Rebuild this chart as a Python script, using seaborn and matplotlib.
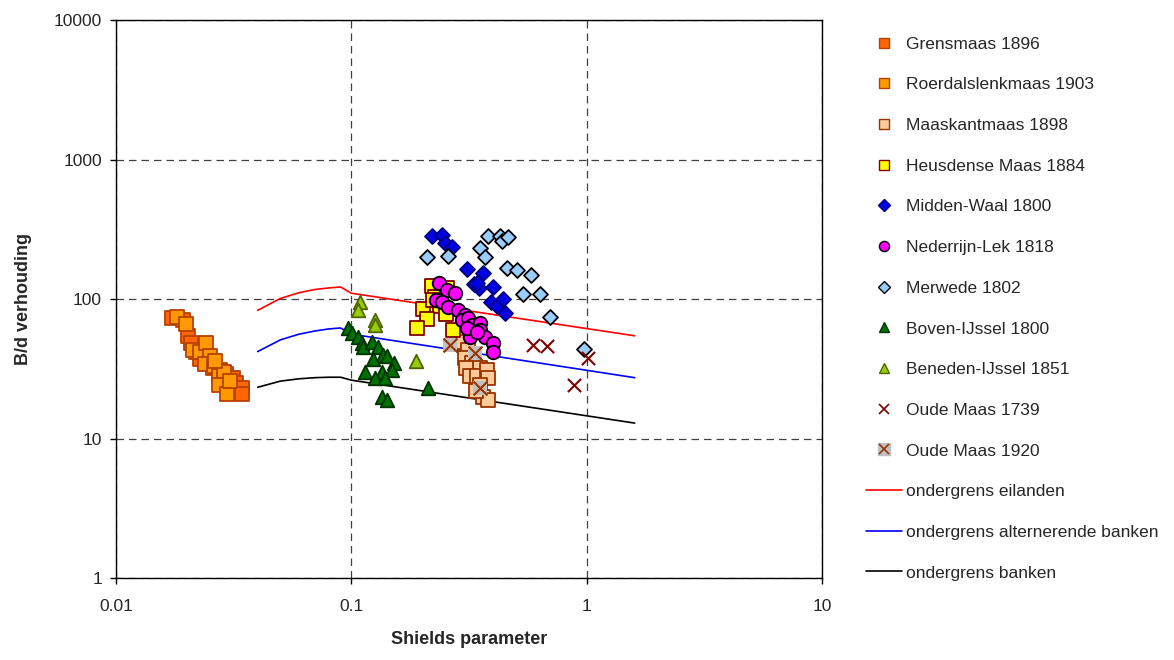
import seaborn as sns
import matplotlib.pyplot as plt
import numpy as np
from matplotlib.lines import Line2D
from matplotlib.ticker import FixedLocator, FixedFormatter, NullLocator

# --- data (Shields parameter, B/d ratio) ---
grensmaas_x = [0.0173, 0.0193, 0.0202, 0.0208, 0.0219, 0.0228, 0.0241, 0.0258, 0.0277, 0.0294, 0.0314, 0.0324, 0.0343, 0.0343]
grensmaas_y = [73, 71, 54, 48, 42, 37, 35, 32, 31, 29, 27, 25, 23, 21]

roerdal_x = [0.0182, 0.0198, 0.0212, 0.0228, 0.0241, 0.0251, 0.0239, 0.0261, 0.0274, 0.0288, 0.0274, 0.0296, 0.0305, 0.0263]
roerdal_y = [74, 66, 43, 42, 48, 39, 34, 33, 28, 30, 24, 21, 26, 36]

maaskant_x = [0.298, 0.313, 0.304, 0.326, 0.352, 0.307, 0.320, 0.342, 0.377, 0.381, 0.352, 0.363, 0.381, 0.339]
maaskant_y = [49, 43, 38, 35, 32, 32, 28, 28, 31, 27, 24, 20, 19, 22]

heusden_x = [0.220, 0.227, 0.238, 0.202, 0.210, 0.190, 0.253, 0.270, 0.255, 0.223]
heusden_y = [124, 103, 89, 85, 72, 62, 78, 60, 120, 98]

waal_x = [0.220, 0.243, 0.250, 0.268, 0.310, 0.363, 0.332, 0.349, 0.400, 0.393, 0.416, 0.441, 0.450, 0.342]
waal_y = [283, 288, 252, 236, 164, 154, 128, 120, 122, 95, 89, 100, 79, 130]

lek_x = [0.236, 0.255, 0.276, 0.229, 0.243, 0.258, 0.284, 0.304, 0.296, 0.313, 0.326, 0.352, 0.352, 0.320, 0.370, 0.400, 0.400, 0.310, 0.342]
lek_y = [130, 116, 110, 98, 95, 88, 83, 77, 71, 73, 65, 67, 60, 53, 53, 48, 42, 62, 58]

merwede_x = [0.210, 0.258, 0.352, 0.370, 0.381, 0.428, 0.437, 0.463, 0.459, 0.506, 0.580, 0.537, 0.634, 0.699, 0.975]
merwede_y = [200, 203, 232, 200, 283, 283, 260, 278, 167, 161, 149, 109, 109, 74, 44]

boven_x = [0.097, 0.101, 0.107, 0.111, 0.112, 0.122, 0.130, 0.136, 0.124, 0.142, 0.152, 0.149, 0.114, 0.135, 0.126, 0.139, 0.135, 0.142, 0.212]
boven_y = [62, 57, 53, 48, 45, 49, 45, 40, 37, 39, 35, 31, 30, 30, 27, 27, 20, 19, 23]

beneden_x = [0.109, 0.107, 0.126, 0.126, 0.188]
beneden_y = [95, 83, 71, 65, 36]

oude1739_x = [0.592, 0.679, 1.014, 0.884]
oude1739_y = [47, 46, 38, 24]

oude1920_x = [0.263, 0.336, 0.352]
oude1920_y = [47, 41, 23]

# lower limits
limit_x = [0.04, 0.05, 0.06, 0.07, 0.08, 0.09, 0.1, 1.6]
eilanden_y = [83, 101, 111, 117, 120, 122, 110, 54.5]
alternerend_y = [42, 51, 56, 59, 61, 62, 56, 27.3]
banken_y = [23.3, 25.8, 26.8, 27.3, 27.5, 27.5, 26.2, 12.9]

x_ticks = [0.01, 0.1, 1, 10]
x_tick_labels = ["0.01", "0.1", "1", "10"]
y_ticks = [1, 10, 100, 1000, 10000]
y_tick_labels = ["1", "10", "100", "1000", "10000"]


def main():
    sns.set_theme(style="white")
    plt.rcParams["font.family"] = ["Liberation Sans", "DejaVu Sans"]

    fig = plt.figure(figsize=(11.74, 6.6), dpi=100)
    ax = fig.add_axes([0.0988, 0.1242, 0.6014, 0.8455])
    ax.set(xscale="log", yscale="log")

    # limit lines (below markers)
    sns.lineplot(x=limit_x, y=eilanden_y, color="#FF0000", lw=1.2, ax=ax, zorder=2)
    sns.lineplot(x=limit_x, y=alternerend_y, color="#0000FF", lw=1.2, ax=ax, zorder=2)
    sns.lineplot(x=limit_x, y=banken_y, color="black", lw=1.2, ax=ax, zorder=2)

    series = [
        ("Grensmaas 1896", grensmaas_x, grensmaas_y, "s", 90, "#FF6600", "#B84000"),
        ("Roerdalslenkmaas 1903", roerdal_x, roerdal_y, "s", 90, "#FF9900", "#B84000"),
        ("Maaskantmaas 1898", maaskant_x, maaskant_y, "s", 90, "#FFCC99", "#993300"),
        ("Heusdense Maas 1884", heusden_x, heusden_y, "s", 90, "#FFFF00", "#800000"),
        ("Midden-Waal 1800", waal_x, waal_y, "D", 58, "#0000E6", "#000080"),
        ("Nederrijn-Lek 1818", lek_x, lek_y, "o", 95, "#FF00FF", "black"),
        ("Merwede 1802", merwede_x, merwede_y, "D", 58, "#99CCFF", "black"),
        ("Boven-IJssel 1800", boven_x, boven_y, "^", 95, "#007000", "#003300"),
        ("Beneden-IJssel 1851", beneden_x, beneden_y, "^", 95, "#99CC00", "#4D6600"),
    ]
    handles = []
    labels = []
    z = 3
    for name, xs, ys, mk, size, face, edge in series:
        sns.scatterplot(x=xs, y=ys, marker=mk, s=size, color=face, edgecolor=edge,
                        linewidth=1.3, ax=ax, zorder=z, legend=False)
        z += 1
        handles.append(Line2D([], [], ls="none", marker=mk, markersize=np.sqrt(size) * 0.75,
                              markerfacecolor=face, markeredgecolor=edge, markeredgewidth=1.0))
        labels.append(name)

    sns.scatterplot(x=oude1739_x, y=oude1739_y, marker="x", s=90, color="#800000",
                    linewidth=1.5, ax=ax, zorder=z, legend=False)
    handles.append(Line2D([], [], ls="none", marker="x", markersize=7.5,
                          color="#800000", markeredgewidth=1.2))
    labels.append("Oude Maas 1739")
    z += 1

    sns.scatterplot(x=oude1920_x, y=oude1920_y, marker="s", s=110, color="#C0C0C0",
                    linewidth=0, ax=ax, zorder=z, legend=False)
    sns.scatterplot(x=oude1920_x, y=oude1920_y, marker="x", s=100, color="#993300",
                    linewidth=1.5, ax=ax, zorder=z + 1, legend=False)
    handles.append((Line2D([], [], ls="none", marker="s", markersize=8,
                           markerfacecolor="#C0C0C0", markeredgecolor="#C0C0C0"),
                    Line2D([], [], ls="none", marker="x", markersize=7.5,
                           color="#993300", markeredgewidth=1.2)))
    labels.append("Oude Maas 1920")

    handles.append(Line2D([], [], color="#FF0000", lw=1.2))
    labels.append("ondergrens eilanden")
    handles.append(Line2D([], [], color="#0000FF", lw=1.2))
    labels.append("ondergrens alternerende banken")
    handles.append(Line2D([], [], color="black", lw=1.2))
    labels.append("ondergrens banken")

    ax.set_xlim(0.01, 10)
    ax.set_ylim(1, 10000)
    ax.xaxis.set_major_locator(FixedLocator(x_ticks))
    ax.xaxis.set_major_formatter(FixedFormatter(x_tick_labels))
    ax.yaxis.set_major_locator(FixedLocator(y_ticks))
    ax.yaxis.set_major_formatter(FixedFormatter(y_tick_labels))
    ax.xaxis.set_minor_locator(NullLocator())
    ax.yaxis.set_minor_locator(NullLocator())
    ax.tick_params(axis="both", which="major", direction="out", length=4, width=1,
                   color="black", labelsize=12.5, bottom=True, left=True)
    ax.tick_params(axis="x", pad=11)
    ax.tick_params(axis="y", pad=6)

    ax.grid(True, which="major", color="#404040", linestyle=(0, (6, 4)), linewidth=0.9)
    for sp in ax.spines.values():
        sp.set_color("black")
        sp.set_linewidth(1.0)
        sp.set_zorder(20)

    ax.set_xlabel("Shields parameter", fontsize=13, fontweight="bold", labelpad=12)
    ax.set_ylabel("B/d verhouding", fontsize=13, fontweight="bold", labelpad=16)

    fig.legend(handles, labels, loc="upper left", bbox_to_anchor=(0.7317, 0.955),
               frameon=False, fontsize=12.5, handlelength=2.07, handletextpad=0.25,
               labelspacing=1.47, borderaxespad=0)

    fig.savefig("out.png", dpi=100)


if __name__ == '__main__':
    main()
